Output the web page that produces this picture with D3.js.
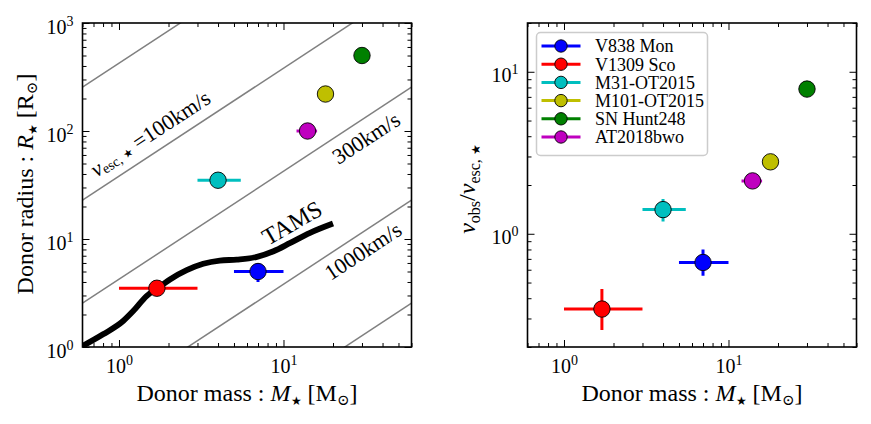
<!DOCTYPE html>
<html>
<head>
<meta charset="utf-8">
<script src="https://cdn.jsdelivr.net/npm/d3@7"></script>
<style>
  body { margin: 0; background: #fff; }
</style>
</head>
<body>
<div id="chart"></div>
<script>
// transients
const names = ['V838 Mon', 'V1309 Sco', 'M31-OT2015', 'M101-OT2015', 'SN Hunt248', 'AT2018bwo'];
const colors = ['#0000ff', '#ff0000', '#00bfbf', '#bfbf00', '#008000', '#bf00bf'];
const mass = [7, 1.7, 4, 18, 30, 14];
const massLo = [5, 1, 3, null, null, 12];
const massHi = [10, 3, 5.5, null, null, 16];
const radius = [5, 3.5, 35, 220, 500, 100];
const radiusLo = [4, null, null, null, null, null];
const radiusHi = [6, null, null, null, null, null];
const vRatio = [0.665, 0.343, 1.41, 2.78, 7.82, 2.12];
const vRatioLo = [0.55, 0.255, 1.19, null, null, null];
const vRatioHi = [0.80, 0.456, 1.64, null, null, null];

// terminal-age main sequence
const tamsMass = [0.6, 0.8, 1.06, 1.22, 1.47, 1.73, 2.04, 2.58, 3.25, 4.1, 5.2, 6.9, 8.7, 11, 14.5, 20];
const tamsRadius = [1.02, 1.31, 1.74, 2.15, 2.96, 3.53, 4.22, 5.14, 5.89, 6.31, 6.45, 6.83, 7.7, 9.2, 11.4, 13.9];

// escape velocity guide lines (km/s); vesc of the Sun = 617.7 km/s
const vescLines = [30, 100, 300, 1000, 3000];
const vescSun = 617.7;

const xDomain = [0.6, 60];
const xTicks = [1, 10];
const leftYDomain = [1, 1000];
const leftYTicks = [1, 10, 100, 1000];
const rightYDomain = [0.2, 20];
const rightYTicks = [1, 10];

const FONT = "'Liberation Serif', 'Times New Roman', 'DejaVu Serif', serif";
const W = 871, H = 424;
const svg = d3.select('#chart').append('svg')
    .attr('width', W)
    .attr('height', H);

const pts = names.map((n, i) => ({
    name: n, color: colors[i], m: mass[i], mLo: massLo[i], mHi: massHi[i],
    r: radius[i], rLo: radiusLo[i], rHi: radiusHi[i],
    v: vRatio[i], vLo: vRatioLo[i], vHi: vRatioHi[i]
}));

function minorTicks(domain) {
    const out = [];
    for (let e = Math.floor(Math.log10(domain[0])); e <= Math.ceil(Math.log10(domain[1])); e++) {
        for (let k = 2; k <= 9; k++) {
            const v = k * Math.pow(10, e);
            if (v >= domain[0] && v <= domain[1]) out.push(v);
        }
    }
    return out;
}

function powLabel(sel) {
    sel.each(function(d) {
        const t = d3.select(this);
        t.text('');
        t.append('tspan').text('10');
        t.append('tspan').attr('dy', -8).style('font-size', '14px').text(Math.round(Math.log10(d)));
    });
}

function makePanel(left, yDomain, yTicks) {
    const box = { x0: left, x1: left + 329, y0: 23, y1: 347 };
    const g = svg.append('g');
    const x = d3.scaleLog().domain(xDomain).range([box.x0, box.x1]);
    const y = d3.scaleLog().domain(yDomain).range([box.y1, box.y0]);
    const id = 'clip' + left;
    svg.append('clipPath').attr('id', id)
        .append('rect')
        .attr('x', box.x0).attr('y', box.y0)
        .attr('width', box.x1 - box.x0).attr('height', box.y1 - box.y0);

    const axes = [
        [d3.axisBottom(x), `translate(0,${box.y1})`],
        [d3.axisTop(x), `translate(0,${box.y0})`],
        [d3.axisLeft(y), `translate(${box.x0},0)`],
        [d3.axisRight(y), `translate(${box.x1},0)`]
    ];
    axes.forEach(([ax, tr], i) => {
        const isX = i < 2;
        const minor = minorTicks(isX ? xDomain : yDomain);
        g.append('g').attr('transform', tr)
            .call(ax.tickValues(minor).tickSize(-4).tickSizeOuter(0).tickFormat(''))
            .call(s => s.select('.domain').remove());
        const major = g.append('g').attr('transform', tr)
            .call(ax.tickValues(isX ? xTicks : yTicks).tickSize(-7).tickSizeOuter(0).tickFormat(d => d))
            .call(s => s.select('.domain').remove())
            .attr('font-family', null)
            .attr('font-size', null);
        if (i === 0) {
            major.selectAll('text').attr('y', 26).attr('dy', 0).style('font-size', '20px').call(powLabel);
        } else if (i === 2) {
            major.selectAll('text').attr('x', -9).attr('dy', 10).style('font-size', '20px').call(powLabel);
        } else {
            major.selectAll('text').remove();
        }
    });
    g.selectAll('.tick line').attr('stroke', '#000').attr('stroke-width', 1);

    const plot = svg.append('g').attr('clip-path', `url(#${id})`);
    return { g, plot, x, y, box };
}

function drawPoints(p, yKey) {
    const { plot, x, y } = p;
    const e = plot.append('g');
    pts.forEach(d => {
        if (d.mLo != null) {
            e.append('line')
                .attr('x1', x(d.mLo)).attr('x2', x(d.mHi))
                .attr('y1', y(d[yKey])).attr('y2', y(d[yKey]))
                .attr('stroke', d.color).attr('stroke-width', 3);
        }
        if (d[yKey + 'Lo'] != null) {
            e.append('line')
                .attr('x1', x(d.m)).attr('x2', x(d.m))
                .attr('y1', y(d[yKey + 'Lo'])).attr('y2', y(d[yKey + 'Hi']))
                .attr('stroke', d.color).attr('stroke-width', 3);
        }
    });
    plot.append('g').selectAll('circle')
        .data(pts)
        .join('circle')
        .attr('cx', d => x(d.m))
        .attr('cy', d => y(d[yKey]))
        .attr('r', 8.2)
        .attr('fill', d => d.color)
        .attr('stroke', '#000')
        .attr('stroke-width', 0.9);
}

function frame(p) {
    const b = p.box;
    svg.append('rect')
        .attr('x', b.x0).attr('y', b.y0)
        .attr('width', b.x1 - b.x0).attr('height', b.y1 - b.y0)
        .attr('fill', 'none').attr('stroke', '#000').attr('stroke-width', 1.6);
}

// ---------- left panel ----------
const L = makePanel(82.5, leftYDomain, leftYTicks);

L.plot.selectAll('.vesc')
    .data(vescLines)
    .join('line')
    .attr('class', 'vesc')
    .attr('x1', L.x(xDomain[0]))
    .attr('x2', L.x(xDomain[1]))
    .attr('y1', v => L.y(xDomain[0] * Math.pow(vescSun / v, 2)))
    .attr('y2', v => L.y(xDomain[1] * Math.pow(vescSun / v, 2)))
    .attr('stroke', '#808080')
    .attr('stroke-width', 1.5);

const tamsLine = d3.line()
    .x(d => L.x(d[0]))
    .y(d => L.y(d[1]))
    .curve(d3.curveMonotoneX);
L.plot.append('path')
    .datum(tamsMass.map((m, i) => [m, tamsRadius[i]]))
    .attr('d', tamsLine)
    .attr('fill', 'none')
    .attr('stroke', '#000')
    .attr('stroke-width', 5.8);

drawPoints(L, 'r');

const ang = -33.3;
function rotText(xp, yp, a, size) {
    return svg.append('text')
        .attr('transform', `translate(${xp},${yp}) rotate(${a})`)
        .attr('text-anchor', 'middle')
        .attr('dominant-baseline', 'central')
        .style('font-size', size + 'px');
}
const t100 = rotText(150, 133, ang, 22);
t100.append('tspan').style('font-style', 'italic').text('v');
t100.append('tspan').attr('dy', 5).style('font-size', '14px').text('esc, ');
t100.append('tspan').style('font-size', '11px').text('★');
t100.append('tspan').attr('dy', -5).text(' =100km/s');
rotText(366, 138, ang, 22).text('300km/s');
rotText(363, 251, ang, 22).text('1000km/s');
rotText(292, 223, -30, 24).text('TAMS');

frame(L);

// ---------- right panel ----------
const R = makePanel(527.5, rightYDomain, rightYTicks);
drawPoints(R, 'v');
frame(R);

// legend
const leg = svg.append('g').attr('transform', 'translate(536.5,32.5)');
leg.append('rect')
    .attr('width', 171).attr('height', 123).attr('rx', 4)
    .attr('fill', '#fff').attr('fill-opacity', 0.8)
    .attr('stroke', '#cccccc').attr('stroke-width', 1.5);
const rows = leg.selectAll('.row')
    .data(pts)
    .join('g')
    .attr('class', 'row')
    .attr('transform', (d, i) => `translate(0,${13.5 + i * 18.2})`);
rows.append('line')
    .attr('x1', 5).attr('x2', 44)
    .attr('stroke', d => d.color).attr('stroke-width', 3);
rows.append('circle')
    .attr('cx', 24.5).attr('r', 6.2)
    .attr('fill', d => d.color).attr('stroke', '#000').attr('stroke-width', 0.9);
rows.append('text')
    .attr('x', 58.5).attr('dy', '0.35em')
    .style('font-size', '18px')
    .text(d => d.name);

// axis titles
function massLabel(cx) {
    const t = svg.append('text')
        .attr('x', cx).attr('y', 401)
        .attr('text-anchor', 'middle')
        .style('font-size', '24px');
    t.append('tspan').text('Donor mass : ');
    t.append('tspan').style('font-style', 'italic').text('M');
    t.append('tspan').attr('dy', 4).style('font-size', '12px').text('★');
    t.append('tspan').attr('dy', -4).text(' [M');
    t.append('tspan').attr('dy', 4).style('font-size', '15px').text('⊙');
    t.append('tspan').attr('dy', -4).text(']');
}
massLabel(247);
massLabel(692);

const yl = svg.append('text')
    .attr('transform', 'translate(33,184) rotate(-90)')
    .attr('text-anchor', 'middle')
    .style('font-size', '24px');
yl.append('tspan').text('Donor radius : ');
yl.append('tspan').style('font-style', 'italic').text('R');
yl.append('tspan').attr('dy', 4).style('font-size', '12px').text('★');
yl.append('tspan').attr('dy', -4).text(' [R');
yl.append('tspan').attr('dy', 4).style('font-size', '15px').text('⊙');
yl.append('tspan').attr('dy', -4).text(']');

const yr = svg.append('text')
    .attr('transform', 'translate(475,189) rotate(-90)')
    .attr('text-anchor', 'middle')
    .style('font-size', '24px');
yr.append('tspan').style('font-style', 'italic').text('v');
yr.append('tspan').attr('dy', 5).style('font-size', '16px').text('obs');
yr.append('tspan').attr('dy', -5).text('/');
yr.append('tspan').style('font-style', 'italic').text('v');
yr.append('tspan').attr('dy', 5).style('font-size', '16px').text('esc, ');
yr.append('tspan').style('font-size', '12px').text('★');

svg.selectAll('text').style('font-family', FONT).style('fill', '#000');
</script>
</body>
</html>
